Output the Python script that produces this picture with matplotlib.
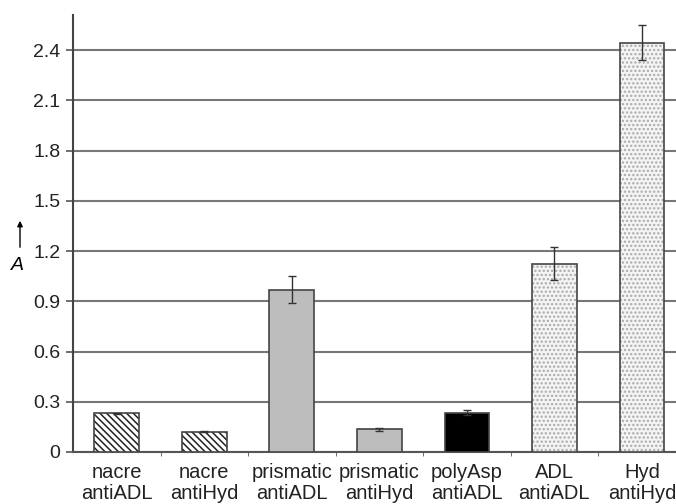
import matplotlib
matplotlib.use('Agg')
import matplotlib.pyplot as plt
import numpy as np

plt.rcParams['font.family'] = ['Liberation Sans', 'DejaVu Sans']
plt.rcParams['hatch.linewidth'] = 1.1

labels = ['nacre\nantiADL', 'nacre\nantiHyd', 'prismatic\nantiADL', 'prismatic\nantiHyd',
          'polyAsp\nantiADL', 'ADL\nantiADL', 'Hyd\nantiHyd']
values = [0.23, 0.12, 0.97, 0.135, 0.235, 1.125, 2.445]
errors = [0.005, 0.003, 0.08, 0.01, 0.015, 0.10, 0.105]
yticks = [0, 0.3, 0.6, 0.9, 1.2, 1.5, 1.8, 2.1, 2.4]
ytick_labels = ['0', '0.3', '0.6', '0.9', '1.2', '1.5', '1.8', '2.1', '2.4']

fills = ['white', 'white', '#bdbdbd', '#bdbdbd', 'black', '#f4f4f4', '#f4f4f4']
hatches = ['\\\\\\\\\\', '\\\\\\\\\\', None, None, None, '....', '....']
hatch_cols = ['#222222', '#222222', '#555555', '#555555', 'black', '#aaaaaa', '#aaaaaa']

fig = plt.figure(figsize=(6.76, 5.04), dpi=100)
ax = fig.add_axes([73 / 676, 52 / 504, 603 / 676, 437 / 504])

x = np.arange(len(values))
for i in range(len(values)):
  ax.bar(x[i], values[i], width=0.51, color=fills[i], edgecolor=hatch_cols[i],
         hatch=hatches[i], linewidth=0, zorder=3)
  ax.bar(x[i], values[i], width=0.51, color='none', edgecolor='#444444',
         linewidth=1.2, zorder=4)
ax.errorbar(x, values, yerr=errors, fmt='none', ecolor='#333333', elinewidth=1,
            capsize=3, capthick=1, zorder=5)

ax.set_ylim(0, 2.61)
ax.set_xlim(-0.5, 6.39)
ax.set_yticks(yticks)
ax.set_yticklabels(ytick_labels, fontsize=14, color='#222222')
ax.yaxis.grid(True, color='#777777', linewidth=1.5, zorder=0)
ax.set_axisbelow(True)

ax.set_xticks(x)
ax.set_xticklabels(labels, fontsize=14.5, color='#222222', linespacing=1.15)
ax.tick_params(axis='x', length=0, pad=8)
ax.set_xticks(np.arange(0.5, 6, 1), minor=True)
ax.tick_params(axis='x', which='minor', length=3, color='#555555')
ax.tick_params(axis='y', length=5, width=1.2, color='#555555', pad=4)

for s in ['top', 'right']:
  ax.spines[s].set_visible(False)
ax.spines['left'].set_color('#444444')
ax.spines['left'].set_linewidth(1.5)
ax.spines['bottom'].set_color('#555555')
ax.spines['bottom'].set_linewidth(1.5)

# y label: up arrow and italic A
fig.patches.append(matplotlib.patches.FancyArrowPatch(
  (20, 504 - 250), (20, 504 - 218), transform=None, arrowstyle='-|>',
  mutation_scale=8, color='black', linewidth=1))
fig.text(17 / 676, 1 - 266 / 504, 'A', fontsize=14, style='italic',
         ha='center', va='center')

plt.savefig('out.png', dpi=100)
